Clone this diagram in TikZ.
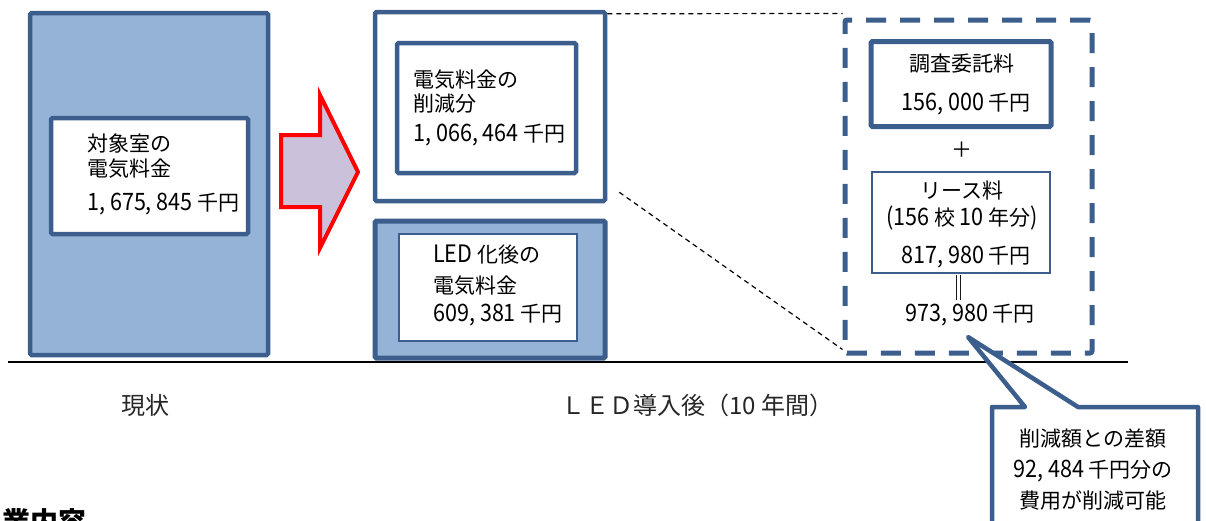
\documentclass[tikz,border=0pt]{standalone}
\usepackage{fontspec}
\newfontfamily\jp{Noto Sans CJK JP}
\newfontfamily\numf[FakeStretch=0.9]{Noto Sans CJK JP}
\newcommand\digs[1]{{\numf\fontsize{24}{25}\selectfont #1}}
\definecolor{myblue}{HTML}{3B5E8C}
\definecolor{lightblue}{HTML}{95B3D7}
\definecolor{arrowfill}{HTML}{CCC1DA}
\begin{document}
\begin{tikzpicture}[x=1pt,y=-1pt,
  box/.style={draw=myblue, line width=4.5pt, rounded corners=1.5pt, inner sep=0pt},
  thinbox/.style={draw=myblue, line width=2pt, inner sep=0pt},
  txt/.style={font=\jp\fontsize{21}{25}\selectfont, inner sep=0pt, text=black},
  lab/.style={font=\jp\fontsize{24}{26}\selectfont, inner sep=0pt, text=black!85},
  dimline/.style={black, line width=1.2pt, dash pattern=on 5pt off 4pt}]
\useasboundingbox (0,0) rectangle (1206,520);
\clip (0,0) rectangle (1206,520);

% current state
\node[box, fill=lightblue, minimum width=238pt, minimum height=342pt] (cur) at (149,184) {};
\node[box, fill=white, minimum width=197pt, minimum height=116pt] (curin) at (149.5,176) {};
\node[txt, anchor=base west] (c1) at (87,151) {対象室の};
\node[txt, anchor=base west] (c2) at (87,176) {電気料金};
\node[txt, anchor=base west] (c3) at (87,210) {\digs{1, 675, 845} 千円};

% arrow
\draw[red, line width=4pt, fill=arrowfill, line join=miter]
  (281,135) -- (320,135) -- (320,95) -- (358,172) -- (320,248) -- (320,207) -- (281,207) -- cycle;

% LED top
\node[box, fill=white, minimum width=230pt, minimum height=189pt] (ledtop) at (490,106.5) {};
\node[box, fill=white, minimum width=179pt, minimum height=130pt] (ledtopin) at (486.5,108) {};
\node[txt, anchor=base west] (t1) at (413,87) {電気料金の};
\node[txt, anchor=base west] (t2) at (413,111) {削減分};
\node[txt, anchor=base west] (t3) at (413,141) {\digs{1, 066, 464} 千円};

% LED bottom
\node[box, line width=5pt, fill=lightblue, minimum width=230pt, minimum height=137pt] (ledbot) at (490,289.5) {};
\node[thinbox, fill=white, minimum width=178pt, minimum height=107pt] (ledbotin) at (488,287.5) {};
\node[txt, anchor=base west] (b1) at (433,262) {\digs{LED} 化後の};
\node[txt, anchor=base west] (b2) at (433,293) {電気料金};
\node[txt, anchor=base west] (b3) at (433,321) {\digs{609, 381} 千円};

% dashed box
\node[draw=myblue, line width=5pt, dash pattern=on 20pt off 14pt, rounded corners=2pt,
  minimum width=247pt, minimum height=333pt, inner sep=0pt] (dashbox) at (968.5,186.5) {};
\draw[dimline] ([yshift=-4pt]ledtop.north east) -- ([yshift=4pt]dashbox.north west);
\draw[dimline] ([xshift=12pt,yshift=11pt]ledtop.south east) -- ([yshift=6pt]dashbox.south west);

\node[box, line width=5pt, fill=white, minimum width=180pt, minimum height=85pt] (chosa) at (961,84) {};
\node[txt, anchor=base] (s1) at (962,71) {調査委託料};
\node[txt, anchor=base] (s2) at (966,110) {\digs{156, 000} 千円};
\node[txt] (plus) at (962,150) {＋};
\node[thinbox, fill=white, minimum width=178pt, minimum height=101pt] (lease) at (961,222.5) {};
\node[txt, anchor=base] (l1) at (962,198) {リース料};
\node[txt, anchor=base] (l2) at (962,225) {\digs{(156} 校 \digs{10} 年分\digs{)}};
\node[txt, anchor=base] (l3) at (966,263) {\digs{817, 980} 千円};
\node[txt, font=\jp\fontsize{25}{26}\selectfont, text height=9pt, text depth=0pt, anchor=base] (eq) at (959,297) {‖};
\node[txt, anchor=base] (total) at (970,321) {\digs{973, 980} 千円};

% baseline
\coordinate (gl) at (8,362);
\coordinate (gr) at (1128,362);
\draw[black, line width=2pt] (gl) -- (gr);

% labels
\node[lab, anchor=base] (lab1) at (145,414) {現状};
\node[lab, anchor=base] (lab2) at (697,414) {ＬＥＤ導入後（10 年間）};

% callout
\coordinate (tip) at (968,337);
\draw[myblue, line width=4.5pt, fill=white, line join=round]
  (992,407) -- (1025,407) -- (tip) -- (1078,407) -- (1198,407) -- (1198,545) -- (992,545) -- cycle;
\node[txt, anchor=base] (k1) at (1093,446) {削減額との差額};
\node[txt, anchor=base] (k2) at (1093,477) {\digs{92, 484} 千円分の};
\node[txt, anchor=base] (k3) at (1093,508) {費用が削減可能};

% cropped heading
\node[txt, font=\jp\bfseries\fontsize{28}{30}\selectfont, anchor=base west] (head) at (2,532) {業内容};
\end{tikzpicture}
\end{document}
